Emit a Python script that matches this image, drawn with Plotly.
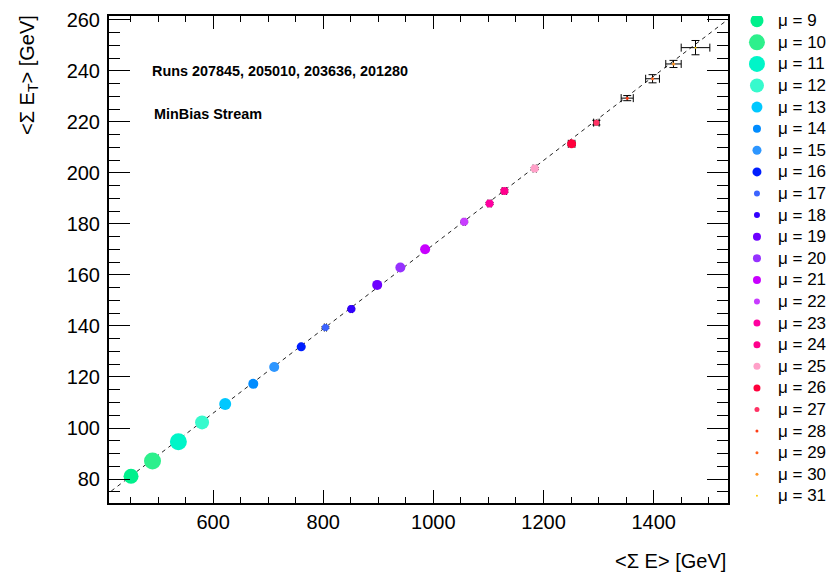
import plotly.graph_objects as go

# ---------------- data ----------------
mu = [9, 10, 11, 12, 13, 14, 15, 16, 17, 18, 19, 20, 21, 22, 23, 24, 25, 26, 27, 28, 29, 30, 31]
sum_e = [451, 490, 537, 580, 622, 673, 711, 760, 804, 851, 898, 940, 985, 1056, 1102, 1129, 1184, 1251, 1296, 1352, 1398, 1436, 1476]
sum_et = [81.1, 87.1, 94.6, 102.2, 109.4, 117.3, 123.9, 131.8, 139.4, 146.6, 156.1, 162.9, 170.1, 180.8, 188.0, 192.9, 201.7, 211.4, 219.7, 229.3, 236.9, 242.7, 249.1]
err_e = [1, 1, 1, 1, 1, 1, 1, 1, 2, 2, 2, 2, 2, 2, 3, 4, 3, 6, 5, 11, 12.5, 14, 26]
err_et = [0.2, 0.2, 0.2, 0.2, 0.2, 0.2, 0.2, 0.3, 0.3, 0.3, 0.3, 0.3, 0.3, 0.3, 0.4, 0.5, 0.4, 0.6, 0.9, 1.0, 1.6, 1.4, 2.8]
marker_sizes = [15, 17, 17, 14, 12, 10, 10, 9, 7, 8, 10, 10, 10, 8, 8, 8, 8, 9, 6, 3, 3, 3, 2]
legend_sizes = [13, 16, 16, 14, 11, 8, 9, 9, 6, 6, 8, 8, 8, 6, 7, 7, 7, 7, 5, 3, 3, 3, 2]
colors = ["rgb(0,240,140)", "rgb(45,240,140)", "rgb(0,245,200)", "rgb(55,250,205)",
          "rgb(0,200,255)", "rgb(0,140,255)", "rgb(45,150,255)", "rgb(0,30,255)",
          "rgb(60,100,255)", "rgb(50,0,255)", "rgb(110,0,255)", "rgb(150,50,255)",
          "rgb(200,0,255)", "rgb(200,60,255)", "rgb(255,0,160)", "rgb(255,0,140)",
          "rgb(255,160,200)", "rgb(255,0,60)", "rgb(255,50,100)", "rgb(255,60,20)",
          "rgb(255,100,30)", "rgb(255,150,40)", "rgb(255,200,0)"]

fit_slope = 0.1651
fit_intercept = 6.75
fit_range = [415, 1535]

x_range = [411, 1535]
y_range = [70.6, 261.5]

x_title = "&lt;Σ E&gt; [GeV]"
y_title = "&lt;Σ E<sub>T</sub>&gt; [GeV]"
text_runs = "Runs 207845, 205010, 203636, 201280"
text_stream = "MinBias Stream"

FONT = "Liberation Sans, Arial, Helvetica, sans-serif"

fig = go.Figure()

# fit line
fig.add_trace(go.Scatter(
    x=fit_range, y=[fit_slope * v + fit_intercept for v in fit_range],
    mode="lines", line=dict(color="#222222", width=1, dash="4px,4px"),
    showlegend=False, hoverinfo="skip"))

# data points
for i, m in enumerate(mu):
    fig.add_trace(go.Scatter(
        x=[sum_e[i]], y=[sum_et[i]], mode="markers",
        marker=dict(size=marker_sizes[i], color=colors[i], symbol="circle", line=dict(width=0)),
        error_x=dict(type="data", array=[err_e[i]], color="black", thickness=1, width=4),
        error_y=dict(type="data", array=[err_et[i]], color="black", thickness=1, width=4),
        name=f"μ = {m}", showlegend=False))

# manual legend (keys)
for i, m in enumerate(mu):
    fig.add_trace(go.Scatter(
        x=[0.269], y=[i], xaxis="x2", yaxis="y2", mode="markers",
        marker=dict(size=legend_sizes[i], color=colors[i], symbol="circle", line=dict(width=0)),
        showlegend=False, hoverinfo="skip"))

annotations = []
for i, m in enumerate(mu):
    annotations.append(dict(
        x=0.47, y=i, xref="x2", yref="y2", xanchor="left", yanchor="middle",
        text=f"μ = {m}", showarrow=False,
        font=dict(family=FONT, size=17, color="black")))

annotations += [
    dict(x=(150 - 109) / 716, y=(503 - 71) / 487, xref="paper", yref="paper",
         xanchor="left", yanchor="middle", text=f"<b>{text_runs}</b>", showarrow=False,
         font=dict(family=FONT, size=14.4, color="black")),
    dict(x=(152 - 109) / 716, y=(503 - 114) / 487, xref="paper", yref="paper",
         xanchor="left", yanchor="middle", text=f"<b>{text_stream}</b>", showarrow=False,
         font=dict(family=FONT, size=14.4, color="black")),
    dict(x=(728 - 109) / 716, y=-(561 - 503) / 487, xref="paper", yref="paper",
         xanchor="right", yanchor="middle", text=x_title, showarrow=False,
         font=dict(family=FONT, size=20, color="black")),
    dict(x=(28 - 109) / 716, y=1 + (16 - 13) / 487, xref="paper", yref="paper",
         xanchor="center", yanchor="top", text=y_title, showarrow=False, textangle=-90,
         font=dict(family=FONT, size=20, color="black")),
]

axis_common = dict(
    showline=True, linecolor="black", linewidth=2, mirror="ticks",
    ticks="inside", tickcolor="black", tickwidth=1,
    showgrid=False, zeroline=False,
    tickfont=dict(family=FONT, size=20, color="black"),
)

fig.update_layout(
    width=830, height=575,
    margin=dict(l=109, r=5, t=16, b=72),
    paper_bgcolor="white", plot_bgcolor="white",
    showlegend=False,
    xaxis=dict(range=x_range, domain=[0, 619 / 716], dtick=200, tick0=0, ticklen=13,
               minor=dict(dtick=50, ticklen=6, ticks="inside", tickcolor="black", tickwidth=1),
               **axis_common),
    yaxis=dict(range=y_range, dtick=20, tick0=0, ticklen=21, ticklabelstandoff=3,
               minor=dict(dtick=5, ticklen=11, ticks="inside", tickcolor="black", tickwidth=1),
               **axis_common),
    xaxis2=dict(domain=[0.87, 1.0], range=[0, 1], visible=False, anchor="y2"),
    yaxis2=dict(domain=[0, 1], range=[22.33, -0.218], visible=False, anchor="x2"),
    annotations=annotations,
)

fig.write_html("out.html")
